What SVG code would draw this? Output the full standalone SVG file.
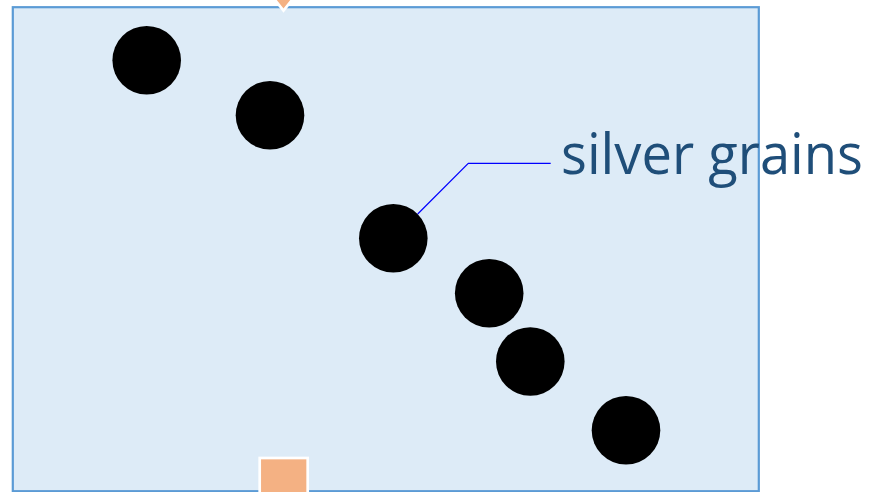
<svg xmlns="http://www.w3.org/2000/svg" width="878" height="492" viewBox="0 0 878 492">
<style>
.grain{fill:#000000}
.marker{fill:#F4B183;stroke:#FFFFFF;stroke-width:2.7}
.label{font-family:"Open Sans","Liberation Sans",Arial,sans-serif;font-size:56px;fill:#1F4E79}
</style>
<rect width="878" height="492" fill="#FFFFFF"/>
<g id="frame">
<rect x="12.8" y="7.2" width="746" height="484" fill="#DDEBF7" stroke="#5B9BD5" stroke-width="2.2"/>
</g>
<g id="top-marker">
<polygon class="marker" points="271,-5 296,-5 283.5,10.5"/>
</g>
<g id="bottom-marker">
<rect class="marker" x="259.7" y="458" width="48" height="40"/>
</g>
<g id="grains">
<circle id="grain1" class="grain" cx="146.7" cy="60.3" r="34.3"/>
<circle id="grain2" class="grain" cx="270" cy="115.3" r="34.3"/>
<circle id="grain3" class="grain" cx="393.3" cy="238.3" r="34.3"/>
<circle id="grain4" class="grain" cx="489.2" cy="293.2" r="34.3"/>
<circle id="grain5" class="grain" cx="530.3" cy="361.5" r="34.3"/>
<circle id="grain6" class="grain" cx="626" cy="430.3" r="34.3"/>
</g>
<g id="connectors">
<polyline points="417.7,214 468.3,163.3 550.7,163.3" fill="none" stroke="#0000FF" stroke-width="1.2"/>
</g>
<g id="label">
<text class="label" x="561" y="174" textLength="302" lengthAdjust="spacingAndGlyphs">silver grains</text>
</g>
</svg>
